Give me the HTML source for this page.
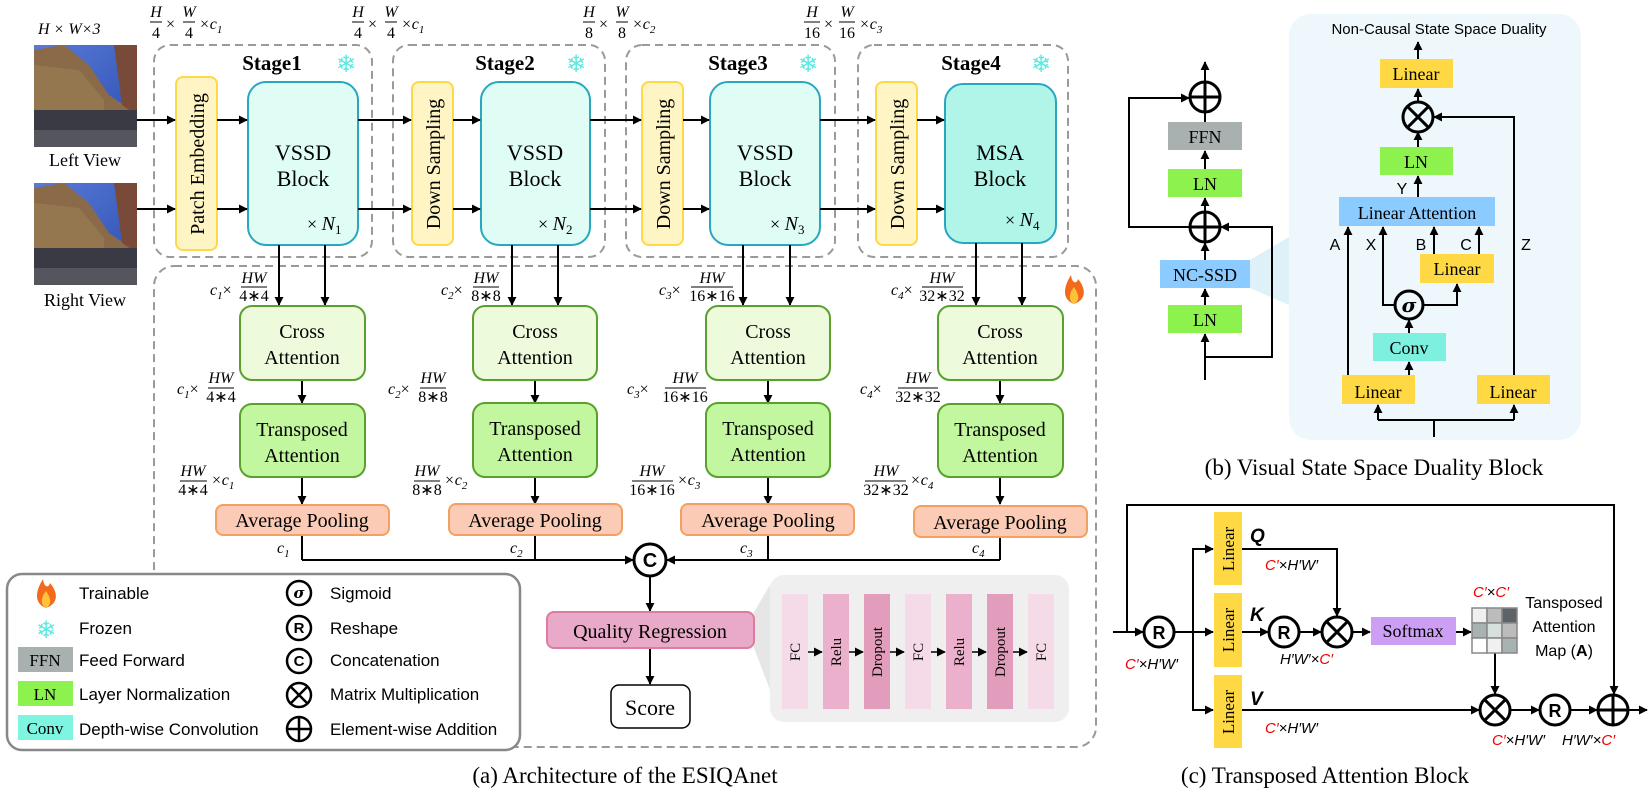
<!DOCTYPE html>
<html><head><meta charset="utf-8"><style>
html,body{margin:0;padding:0;background:#fff;}
svg{display:block;}
.s{font-family:"Liberation Serif",serif;}
.a{font-family:"Liberation Sans",sans-serif;}
.m{font-family:"Liberation Serif",serif;font-style:italic;font-size:16px;}
</style></head><body>
<svg width="1652" height="794" viewBox="0 0 1652 794" xmlns="http://www.w3.org/2000/svg">
<defs>
<marker id="ar" viewBox="0 0 10 10" refX="9" refY="5" markerWidth="9" markerHeight="9" markerUnits="userSpaceOnUse" orient="auto"><path d="M0,0L10,5L0,10z" fill="#000"/></marker>
<linearGradient id="sky" x1="0" y1="0" x2="1" y2="1"><stop offset="0" stop-color="#5a7ad8"/><stop offset="1" stop-color="#2a4fb0"/></linearGradient>
<g id="photo">
<rect x="0" y="0" width="103" height="102" fill="url(#sky)"/>
<polygon points="0,5 30,0 55,20 75,50 90,60 103,55 103,102 0,102" fill="#8a6a48"/>
<polygon points="80,0 103,0 103,70 88,60" fill="#7a4a38"/>
<polygon points="0,20 45,25 70,55 70,102 0,102" fill="#9a7d52" opacity="0.7"/>
<rect x="0" y="65" width="103" height="37" fill="#3a3a44"/>
<rect x="0" y="85" width="103" height="17" fill="#55555e"/>
</g>
<g id="fire"><path d="M0,14 C-13,9 -10,-4 -3,-15 C-2,-6 3,-6 4,-11 C11,-3 14,9 0,14z" fill="#f26a1b"/><path d="M0,14 C-6,11 -5,3 0,-3 C4,3 7,10 0,14z" fill="#ffc23a"/></g>
</defs>

<use href="#photo" x="34" y="45"/>
<use href="#photo" x="34" y="183"/>
<text x="38" y="34" class="m" font-size="15">H × W×3</text>
<text x="85" y="166" class="s" font-size="18" text-anchor="middle">Left View</text>
<text x="85" y="306" class="s" font-size="18" text-anchor="middle">Right View</text>

<g class="m">
<g transform="translate(150,0)"><text x="6" y="17" text-anchor="middle">H</text><line x1="0" y1="22" x2="12" y2="22" stroke="#000"/><text x="6" y="38" text-anchor="middle" font-style="normal">4</text><text x="16" y="29" font-style="normal">×</text><text x="39" y="17" text-anchor="middle">W</text><line x1="33" y1="22" x2="45" y2="22" stroke="#000"/><text x="39" y="38" text-anchor="middle" font-style="normal">4</text><text x="49" y="29">×c<tspan font-size="11" dy="4">1</tspan></text></g>
<g transform="translate(352,0)"><text x="6" y="17" text-anchor="middle">H</text><line x1="0" y1="22" x2="12" y2="22" stroke="#000"/><text x="6" y="38" text-anchor="middle" font-style="normal">4</text><text x="16" y="29" font-style="normal">×</text><text x="39" y="17" text-anchor="middle">W</text><line x1="33" y1="22" x2="45" y2="22" stroke="#000"/><text x="39" y="38" text-anchor="middle" font-style="normal">4</text><text x="49" y="29">×c<tspan font-size="11" dy="4">1</tspan></text></g>
<g transform="translate(583,0)"><text x="6" y="17" text-anchor="middle">H</text><line x1="0" y1="22" x2="12" y2="22" stroke="#000"/><text x="6" y="38" text-anchor="middle" font-style="normal">8</text><text x="16" y="29" font-style="normal">×</text><text x="39" y="17" text-anchor="middle">W</text><line x1="33" y1="22" x2="45" y2="22" stroke="#000"/><text x="39" y="38" text-anchor="middle" font-style="normal">8</text><text x="49" y="29">×c<tspan font-size="11" dy="4">2</tspan></text></g>
<g transform="translate(804,0)"><text x="8" y="17" text-anchor="middle">H</text><line x1="0" y1="22" x2="16" y2="22" stroke="#000"/><text x="8" y="38" text-anchor="middle" font-style="normal">16</text><text x="20" y="29" font-style="normal">×</text><text x="43" y="17" text-anchor="middle">W</text><line x1="35" y1="22" x2="51" y2="22" stroke="#000"/><text x="43" y="38" text-anchor="middle" font-style="normal">16</text><text x="55" y="29">×c<tspan font-size="11" dy="4">3</tspan></text></g>
</g>

<g fill="none" stroke="#9a9a9a" stroke-width="2" stroke-dasharray="8,5">
<rect x="154" y="45" width="218" height="212" rx="16"/>
<rect x="393" y="45" width="212" height="212" rx="16"/>
<rect x="626" y="45" width="209" height="212" rx="16"/>
<rect x="858" y="45" width="210" height="212" rx="16"/>
<rect x="154" y="266" width="942" height="481" rx="20"/>
</g>
<g class="s" font-weight="bold" font-size="21" text-anchor="middle">
<text x="272" y="70">Stage1</text><text x="505" y="70">Stage2</text><text x="738" y="70">Stage3</text><text x="971" y="70">Stage4</text>
</g>
<g font-family="DejaVu Sans" font-size="24" fill="#5ee8df" text-anchor="middle">
<text x="346" y="72">❄</text><text x="576" y="72">❄</text><text x="808" y="72">❄</text><text x="1041" y="72">❄</text>
</g>
<use href="#fire" x="1074" y="290"/>

<g fill="#fff4c4" stroke="#ffd84a" stroke-width="2">
<rect x="176" y="77" width="41" height="173" rx="7"/>
<rect x="412" y="82" width="41" height="163" rx="7"/>
<rect x="642" y="82" width="41" height="163" rx="7"/>
<rect x="876" y="82" width="41" height="163" rx="7"/>
</g>
<g class="s" font-size="20" text-anchor="middle">
<text transform="translate(204,164) rotate(-90)">Patch Embedding</text>
<text transform="translate(440,164) rotate(-90)">Down Sampling</text>
<text transform="translate(670,164) rotate(-90)">Down Sampling</text>
<text transform="translate(904,164) rotate(-90)">Down Sampling</text>
</g>
<g stroke="#2aa7c0" stroke-width="2">
<rect x="248" y="82" width="110" height="163" rx="18" fill="#dffcf5"/>
<rect x="481" y="82" width="109" height="163" rx="18" fill="#dffcf5"/>
<rect x="710" y="82" width="110" height="163" rx="18" fill="#dffcf5"/>
<rect x="945" y="84" width="111" height="159" rx="18" fill="#b0f5e8"/>
</g>
<g class="s" font-size="22" text-anchor="middle">
<text x="303" y="160">VSSD</text><text x="303" y="186">Block</text>
<text x="535" y="160">VSSD</text><text x="535" y="186">Block</text>
<text x="765" y="160">VSSD</text><text x="765" y="186">Block</text>
<text x="1000" y="160">MSA</text><text x="1000" y="186">Block</text>
</g>
<g class="s" font-size="18">
<text x="307" y="230">× <tspan font-style="italic" font-size="20">N</tspan><tspan font-size="13" dy="4">1</tspan></text>
<text x="538" y="230">× <tspan font-style="italic" font-size="20">N</tspan><tspan font-size="13" dy="4">2</tspan></text>
<text x="770" y="230">× <tspan font-style="italic" font-size="20">N</tspan><tspan font-size="13" dy="4">3</tspan></text>
<text x="1005" y="226">× <tspan font-style="italic" font-size="20">N</tspan><tspan font-size="13" dy="4">4</tspan></text>
</g>

<g stroke="#000" stroke-width="2" marker-end="url(#ar)" fill="none">
<line x1="137" y1="120" x2="175" y2="120"/><line x1="137" y1="209" x2="175" y2="209"/>
<line x1="217" y1="120" x2="247" y2="120"/><line x1="217" y1="209" x2="247" y2="209"/>
<line x1="358" y1="120" x2="411" y2="120"/><line x1="358" y1="209" x2="411" y2="209"/>
<line x1="453" y1="120" x2="480" y2="120"/><line x1="453" y1="209" x2="480" y2="209"/>
<line x1="590" y1="120" x2="641" y2="120"/><line x1="590" y1="209" x2="641" y2="209"/>
<line x1="683" y1="120" x2="709" y2="120"/><line x1="683" y1="209" x2="709" y2="209"/>
<line x1="820" y1="120" x2="875" y2="120"/><line x1="820" y1="209" x2="875" y2="209"/>
<line x1="917" y1="120" x2="944" y2="120"/><line x1="917" y1="209" x2="944" y2="209"/>
<line x1="279" y1="245" x2="279" y2="305"/><line x1="325" y1="245" x2="325" y2="305"/>
<line x1="512" y1="245" x2="512" y2="305"/><line x1="558" y1="245" x2="558" y2="305"/>
<line x1="743" y1="245" x2="743" y2="305"/><line x1="790" y1="245" x2="790" y2="305"/>
<line x1="976" y1="243" x2="976" y2="305"/><line x1="1022" y1="243" x2="1022" y2="305"/>
<line x1="302" y1="380" x2="302" y2="403"/><line x1="535" y1="380" x2="535" y2="403"/>
<line x1="768" y1="380" x2="768" y2="403"/><line x1="1000" y1="380" x2="1000" y2="403"/>
<line x1="302" y1="477" x2="302" y2="504"/><line x1="535" y1="477" x2="535" y2="504"/>
<line x1="768" y1="477" x2="768" y2="504"/><line x1="1000" y1="477" x2="1000" y2="504"/>
<line x1="302" y1="535" x2="302" y2="560" marker-end="none"/><line x1="535" y1="535" x2="535" y2="560" marker-end="none"/>
<line x1="768" y1="535" x2="768" y2="560" marker-end="none"/><line x1="1000" y1="537" x2="1000" y2="560" marker-end="none"/>
<line x1="302" y1="560" x2="633" y2="560"/><line x1="1000" y1="560" x2="667" y2="560"/>
<line x1="650" y1="576" x2="650" y2="611"/><line x1="650" y1="648" x2="650" y2="684"/>
</g>

<g stroke="#5aa02c" stroke-width="2">
<rect x="240" y="306" width="125" height="74" rx="12" fill="#eefadc"/>
<rect x="473" y="306" width="124" height="74" rx="12" fill="#eefadc"/>
<rect x="706" y="306" width="124" height="74" rx="12" fill="#eefadc"/>
<rect x="938" y="306" width="125" height="74" rx="12" fill="#eefadc"/>
<rect x="240" y="404" width="125" height="73" rx="12" fill="#c2f7a0"/>
<rect x="473" y="403" width="124" height="74" rx="12" fill="#c2f7a0"/>
<rect x="706" y="403" width="124" height="74" rx="12" fill="#c2f7a0"/>
<rect x="938" y="404" width="125" height="73" rx="12" fill="#c2f7a0"/>
</g>
<g stroke="#f4a060" stroke-width="2" fill="#fbcbb5">
<rect x="216" y="505" width="173" height="30" rx="7"/>
<rect x="449" y="504" width="173" height="31" rx="7"/>
<rect x="681" y="504" width="173" height="31" rx="7"/>
<rect x="914" y="506" width="173" height="31" rx="7"/>
</g>
<g class="s" font-size="20" text-anchor="middle">
<text x="302" y="338">Cross</text><text x="302" y="364">Attention</text>
<text x="535" y="338">Cross</text><text x="535" y="364">Attention</text>
<text x="768" y="338">Cross</text><text x="768" y="364">Attention</text>
<text x="1000" y="338">Cross</text><text x="1000" y="364">Attention</text>
<text x="302" y="436">Transposed</text><text x="302" y="462">Attention</text>
<text x="535" y="435">Transposed</text><text x="535" y="461">Attention</text>
<text x="768" y="435">Transposed</text><text x="768" y="461">Attention</text>
<text x="1000" y="436">Transposed</text><text x="1000" y="462">Attention</text>
<text x="302" y="527">Average Pooling</text><text x="535" y="527">Average Pooling</text>
<text x="768" y="527">Average Pooling</text><text x="1000" y="529">Average Pooling</text>
</g>

<g class="m">
<text x="210" y="295">c<tspan font-size="11" dy="4">1</tspan><tspan dy="-4" font-style="normal">×</tspan></text>
<text x="254" y="283" text-anchor="middle">HW</text><line x1="241" y1="287" x2="267" y2="287" stroke="#000"/><text x="254" y="301" text-anchor="middle" font-style="normal">4∗4</text>
<text x="441" y="295">c<tspan font-size="11" dy="4">2</tspan><tspan dy="-4" font-style="normal">×</tspan></text>
<text x="486" y="283" text-anchor="middle">HW</text><line x1="473" y1="287" x2="499" y2="287" stroke="#000"/><text x="486" y="301" text-anchor="middle" font-style="normal">8∗8</text>
<text x="659" y="295">c<tspan font-size="11" dy="4">3</tspan><tspan dy="-4" font-style="normal">×</tspan></text>
<text x="712" y="283" text-anchor="middle">HW</text><line x1="691" y1="287" x2="733" y2="287" stroke="#000"/><text x="712" y="301" text-anchor="middle" font-style="normal">16∗16</text>
<text x="891" y="295">c<tspan font-size="11" dy="4">4</tspan><tspan dy="-4" font-style="normal">×</tspan></text>
<text x="942" y="283" text-anchor="middle">HW</text><line x1="922" y1="287" x2="963" y2="287" stroke="#000"/><text x="942" y="301" text-anchor="middle" font-style="normal">32∗32</text>

<text x="177" y="394">c<tspan font-size="11" dy="4">1</tspan><tspan dy="-4" font-style="normal">×</tspan></text>
<text x="221" y="383" text-anchor="middle">HW</text><line x1="208" y1="388" x2="234" y2="388" stroke="#000"/><text x="221" y="402" text-anchor="middle" font-style="normal">4∗4</text>
<text x="388" y="394">c<tspan font-size="11" dy="4">2</tspan><tspan dy="-4" font-style="normal">×</tspan></text>
<text x="433" y="383" text-anchor="middle">HW</text><line x1="420" y1="388" x2="446" y2="388" stroke="#000"/><text x="433" y="402" text-anchor="middle" font-style="normal">8∗8</text>
<text x="627" y="394">c<tspan font-size="11" dy="4">3</tspan><tspan dy="-4" font-style="normal">×</tspan></text>
<text x="685" y="383" text-anchor="middle">HW</text><line x1="665" y1="388" x2="706" y2="388" stroke="#000"/><text x="685" y="402" text-anchor="middle" font-style="normal">16∗16</text>
<text x="860" y="394">c<tspan font-size="11" dy="4">4</tspan><tspan dy="-4" font-style="normal">×</tspan></text>
<text x="918" y="383" text-anchor="middle">HW</text><line x1="898" y1="388" x2="938" y2="388" stroke="#000"/><text x="918" y="402" text-anchor="middle" font-style="normal">32∗32</text>

<text x="193" y="476" text-anchor="middle">HW</text><line x1="180" y1="481" x2="207" y2="481" stroke="#000"/><text x="193" y="495" text-anchor="middle" font-style="normal">4∗4</text><text x="211" y="485">×c<tspan font-size="11" dy="4">1</tspan></text>
<text x="427" y="476" text-anchor="middle">HW</text><line x1="414" y1="481" x2="440" y2="481" stroke="#000"/><text x="427" y="495" text-anchor="middle" font-style="normal">8∗8</text><text x="444" y="485">×c<tspan font-size="11" dy="4">2</tspan></text>
<text x="652" y="476" text-anchor="middle">HW</text><line x1="632" y1="481" x2="673" y2="481" stroke="#000"/><text x="652" y="495" text-anchor="middle" font-style="normal">16∗16</text><text x="677" y="485">×c<tspan font-size="11" dy="4">3</tspan></text>
<text x="886" y="476" text-anchor="middle">HW</text><line x1="865" y1="481" x2="906" y2="481" stroke="#000"/><text x="886" y="495" text-anchor="middle" font-style="normal">32∗32</text><text x="910" y="485">×c<tspan font-size="11" dy="4">4</tspan></text>

<text x="277" y="553">c<tspan font-size="11" dy="4">1</tspan></text>
<text x="510" y="553">c<tspan font-size="11" dy="4">2</tspan></text>
<text x="740" y="553">c<tspan font-size="11" dy="4">3</tspan></text>
<text x="972" y="553">c<tspan font-size="11" dy="4">4</tspan></text>
</g>

<circle cx="650" cy="560" r="16" fill="#fff" stroke="#000" stroke-width="3"/>
<text x="650" y="567" class="a" font-weight="bold" font-size="20" text-anchor="middle">C</text>

<polygon points="754,612 770,585 770,690 754,648" fill="#e6e6e6"/>
<rect x="770" y="575" width="299" height="147" rx="14" fill="#efefef"/>
<rect x="547" y="612" width="207" height="36" rx="7" fill="#e8aac8" stroke="#e07aa0" stroke-width="2"/>
<text x="650" y="638" class="s" font-size="20" text-anchor="middle">Quality Regression</text>
<rect x="611" y="685" width="79" height="43" rx="8" fill="#fff" stroke="#000" stroke-width="1.5"/>
<text x="650" y="715" class="s" font-size="22" text-anchor="middle">Score</text>
<g>
<rect x="782" y="594" width="26" height="115" fill="#f5dbe7"/>
<rect x="823" y="594" width="26" height="115" fill="#ebb0cc"/>
<rect x="864" y="594" width="26" height="115" fill="#e29cbc"/>
<rect x="905" y="594" width="26" height="115" fill="#f5dbe7"/>
<rect x="946" y="594" width="26" height="115" fill="#ebb0cc"/>
<rect x="987" y="594" width="26" height="115" fill="#e29cbc"/>
<rect x="1028" y="594" width="26" height="115" fill="#f5dbe7"/>
</g>
<g class="s" font-size="15" text-anchor="middle">
<text transform="translate(800,652) rotate(-90)">FC</text>
<text transform="translate(841,652) rotate(-90)">Relu</text>
<text transform="translate(882,652) rotate(-90)">Dropout</text>
<text transform="translate(923,652) rotate(-90)">FC</text>
<text transform="translate(964,652) rotate(-90)">Relu</text>
<text transform="translate(1005,652) rotate(-90)">Dropout</text>
<text transform="translate(1046,652) rotate(-90)">FC</text>
</g>
<g stroke="#000" stroke-width="1.5" marker-end="url(#ar)">
<line x1="808" y1="652" x2="822" y2="652"/><line x1="849" y1="652" x2="863" y2="652"/><line x1="890" y1="652" x2="904" y2="652"/>
<line x1="931" y1="652" x2="945" y2="652"/><line x1="972" y1="652" x2="986" y2="652"/><line x1="1013" y1="652" x2="1027" y2="652"/>
</g>

<rect x="7" y="574" width="513" height="176" rx="15" fill="#fff" stroke="#888" stroke-width="2.5"/>
<use href="#fire" x="46" y="594"/>
<text x="46" y="638" font-family="DejaVu Sans" font-size="24" fill="#5ee8df" text-anchor="middle">❄</text>
<rect x="18" y="647" width="55" height="25" fill="#a9b0b0"/><text x="45" y="666" class="s" font-size="17" text-anchor="middle">FFN</text>
<rect x="18" y="681" width="55" height="25" fill="#8ef24e"/><text x="45" y="700" class="s" font-size="17" text-anchor="middle">LN</text>
<rect x="18" y="715" width="55" height="25" fill="#7ef5e0"/><text x="45" y="734" class="s" font-size="17" text-anchor="middle">Conv</text>
<g class="a" font-size="17">
<text x="79" y="599">Trainable</text><text x="79" y="634">Frozen</text><text x="79" y="666">Feed Forward</text>
<text x="79" y="700">Layer Normalization</text><text x="79" y="735">Depth-wise Convolution</text>
<text x="330" y="599">Sigmoid</text><text x="330" y="634">Reshape</text><text x="330" y="666">Concatenation</text>
<text x="330" y="700">Matrix Multiplication</text><text x="330" y="735">Element-wise Addition</text>
</g>
<g fill="none" stroke="#000" stroke-width="2.5">
<circle cx="299" cy="593" r="12"/><circle cx="299" cy="628" r="12"/><circle cx="299" cy="661" r="12"/>
<circle cx="299" cy="695" r="12"/><circle cx="299" cy="729" r="12"/>
<path d="M290.5,686.5L307.5,703.5M307.5,686.5L290.5,703.5M287,729H311M299,717V741"/>
</g>
<g class="a" font-weight="bold" font-size="15" text-anchor="middle">
<text x="299" y="598" font-style="italic" font-family="DejaVu Serif">σ</text><text x="299" y="633">R</text><text x="299" y="666">C</text>
</g>

<text x="625" y="783" class="s" font-size="23" text-anchor="middle">(a) Architecture of the ESIQAnet</text>

<polygon points="1250,260 1289,237 1289,305 1250,288" fill="#d6ecf6" opacity="0.8"/>
<rect x="1289" y="14" width="292" height="426" rx="22" fill="#eef8fc"/>
<g fill="none" stroke="#000" stroke-width="2">
<line x1="1205" y1="380" x2="1205" y2="334" marker-end="url(#ar)"/>
<line x1="1205" y1="305" x2="1205" y2="289" marker-end="url(#ar)"/>
<line x1="1205" y1="260" x2="1205" y2="243" marker-end="url(#ar)"/>
<line x1="1205" y1="212" x2="1205" y2="198" marker-end="url(#ar)"/>
<line x1="1205" y1="169" x2="1205" y2="151" marker-end="url(#ar)"/>
<line x1="1205" y1="122" x2="1205" y2="112"/>
<line x1="1205" y1="82" x2="1205" y2="62" marker-end="url(#ar)"/>
<polyline points="1190,227 1129,227 1129,98 1189,98" marker-end="url(#ar)"/>
<polyline points="1205,357 1272,357 1272,227 1221,227" marker-end="url(#ar)"/>
</g>
<g fill="none" stroke="#000" stroke-width="3">
<circle cx="1205" cy="97" r="15"/><path d="M1190,97H1220M1205,82V112"/>
<circle cx="1205" cy="227" r="15"/><path d="M1190,227H1220M1205,212V242"/>
</g>
<rect x="1168" y="122" width="74" height="28" fill="#a9b0b0"/>
<rect x="1168" y="169" width="74" height="28" fill="#8ef24e"/>
<rect x="1160" y="260" width="90" height="28" fill="#8ccbff"/>
<rect x="1168" y="305" width="74" height="28" fill="#8ef24e"/>
<g class="s" font-size="18" text-anchor="middle">
<text x="1205" y="143">FFN</text><text x="1205" y="190">LN</text><text x="1205" y="281">NC-SSD</text><text x="1205" y="326">LN</text>
</g>
<text x="1439" y="34" class="a" font-size="15" text-anchor="middle">Non-Causal State Space Duality</text>
<g fill="#ffd944">
<rect x="1380" y="59" width="73" height="29"/>
<rect x="1420" y="254" width="74" height="29"/>
<rect x="1342" y="375" width="73" height="29"/>
<rect x="1477" y="375" width="73" height="29"/>
</g>
<rect x="1380" y="147" width="73" height="28" fill="#8ef24e"/>
<rect x="1339" y="197" width="156" height="29" fill="#8ccbff"/>
<rect x="1373" y="333" width="73" height="28" fill="#7ef0e0"/>
<g class="s" font-size="18" text-anchor="middle">
<text x="1416" y="80">Linear</text><text x="1416" y="168">LN</text><text x="1417" y="219">Linear Attention</text>
<text x="1457" y="275">Linear</text><text x="1409" y="354">Conv</text><text x="1378" y="398">Linear</text><text x="1513" y="398">Linear</text>
</g>
<g fill="none" stroke="#000" stroke-width="2">
<line x1="1418" y1="59" x2="1418" y2="42" marker-end="url(#ar)"/>
<line x1="1418" y1="102" x2="1418" y2="89" marker-end="url(#ar)"/>
<line x1="1418" y1="147" x2="1418" y2="132" marker-end="url(#ar)"/>
<line x1="1418" y1="197" x2="1418" y2="176" marker-end="url(#ar)"/>
<line x1="1348" y1="375" x2="1348" y2="227" marker-end="url(#ar)"/>
<polyline points="1395,305 1383,305 1383,227" marker-end="url(#ar)"/>
<line x1="1434" y1="254" x2="1434" y2="227" marker-end="url(#ar)"/>
<line x1="1479" y1="254" x2="1479" y2="227" marker-end="url(#ar)"/>
<polyline points="1423,305 1457,305 1457,284" marker-end="url(#ar)"/>
<line x1="1409" y1="333" x2="1409" y2="320" marker-end="url(#ar)"/>
<line x1="1409" y1="375" x2="1409" y2="362" marker-end="url(#ar)"/>
<polyline points="1514,375 1514,117 1434,117" marker-end="url(#ar)"/>
<line x1="1434" y1="437" x2="1434" y2="420"/>
<polyline points="1378,420 1514,420"/>
<line x1="1378" y1="420" x2="1378" y2="405" marker-end="url(#ar)"/>
<line x1="1514" y1="420" x2="1514" y2="405" marker-end="url(#ar)"/>
</g>
<g fill="#eef8fc" stroke="#000" stroke-width="3">
<circle cx="1418" cy="117" r="15"/><path d="M1407.4,106.4L1428.6,127.6M1428.6,106.4L1407.4,127.6"/>
<circle cx="1409" cy="305" r="14"/>
</g>
<text x="1409" y="312" font-family="DejaVu Serif" font-style="italic" font-weight="bold" font-size="20" text-anchor="middle">σ</text>
<g class="a" font-size="16" text-anchor="middle">
<text x="1402" y="194">Y</text><text x="1335" y="250">A</text><text x="1371" y="250">X</text><text x="1421" y="250">B</text><text x="1466" y="250">C</text><text x="1526" y="250">Z</text>
</g>
<text x="1374" y="475" class="s" font-size="23" text-anchor="middle">(b) Visual State Space Duality Block</text>

<g fill="none" stroke="#000" stroke-width="2">
<line x1="1113" y1="632" x2="1143" y2="632" marker-end="url(#ar)"/>
<polyline points="1127,632 1127,505 1614,505 1614,694" marker-end="url(#ar)"/>
<line x1="1174" y1="632" x2="1213" y2="632" marker-end="url(#ar)"/>
<polyline points="1213,549 1193,549 1193,710 1213,710"/>
<line x1="1200" y1="549" x2="1213" y2="549" marker-end="url(#ar)"/>
<line x1="1200" y1="710" x2="1213" y2="710" marker-end="url(#ar)"/>
<polyline points="1242,549 1337,549 1337,616" marker-end="url(#ar)"/>
<line x1="1242" y1="632" x2="1268" y2="632" marker-end="url(#ar)"/>
<line x1="1299" y1="632" x2="1321" y2="632" marker-end="url(#ar)"/>
<line x1="1352" y1="632" x2="1370" y2="632" marker-end="url(#ar)"/>
<line x1="1456" y1="632" x2="1471" y2="632" marker-end="url(#ar)"/>
<line x1="1495" y1="653" x2="1495" y2="694" marker-end="url(#ar)"/>
<line x1="1242" y1="710" x2="1479" y2="710" marker-end="url(#ar)"/>
<line x1="1510" y1="710" x2="1539" y2="710" marker-end="url(#ar)"/>
<line x1="1570" y1="710" x2="1597" y2="710" marker-end="url(#ar)"/>
<line x1="1628" y1="710" x2="1647" y2="710" marker-end="url(#ar)"/>
</g>
<g fill="#fff" stroke="#000" stroke-width="3">
<circle cx="1159" cy="632" r="15"/><circle cx="1284" cy="632" r="15"/>
<circle cx="1337" cy="632" r="15"/><path d="M1326.4,621.4L1347.6,642.6M1347.6,621.4L1326.4,642.6"/>
<circle cx="1495" cy="710" r="15"/><path d="M1484.4,699.4L1505.6,720.6M1505.6,699.4L1484.4,720.6"/>
<circle cx="1555" cy="710" r="15"/>
<circle cx="1613" cy="710" r="15"/><path d="M1598,710H1628M1613,695V725"/>
</g>
<g class="a" font-weight="bold" font-size="18" text-anchor="middle">
<text x="1159" y="639">R</text><text x="1284" y="639">R</text><text x="1555" y="717">R</text>
</g>
<g fill="#ffd944"><rect x="1214" y="512" width="28" height="73"/><rect x="1214" y="593" width="28" height="74"/><rect x="1214" y="675" width="28" height="73"/></g>
<g class="s" font-size="17" text-anchor="middle">
<text transform="translate(1234,549) rotate(-90)">Linear</text>
<text transform="translate(1234,630) rotate(-90)">Linear</text>
<text transform="translate(1234,712) rotate(-90)">Linear</text>
</g>
<g class="a" font-weight="bold" font-style="italic" font-size="19">
<text x="1250" y="542">Q</text><text x="1250" y="621">K</text><text x="1250" y="705">V</text>
</g>
<rect x="1371" y="617" width="85" height="28" fill="#cc9ff5"/>
<text x="1413" y="637" class="s" font-size="18" text-anchor="middle">Softmax</text>
<g stroke="#888" stroke-width="1.5">
<rect x="1472" y="608" width="15" height="15" fill="#f0f0f0"/><rect x="1487" y="608" width="15" height="15" fill="#bcbcbc"/><rect x="1502" y="608" width="15" height="15" fill="#5c6468"/>
<rect x="1472" y="623" width="15" height="15" fill="#a8b2b0"/><rect x="1487" y="623" width="15" height="15" fill="#d8e0de"/><rect x="1502" y="623" width="15" height="15" fill="#bcbcbc"/>
<rect x="1472" y="638" width="15" height="15" fill="#fff"/><rect x="1487" y="638" width="15" height="15" fill="#f0f0f0"/><rect x="1502" y="638" width="15" height="15" fill="#a8b2b0"/>
</g>
<g class="a" font-size="16" text-anchor="middle">
<text x="1564" y="608">Tansposed</text><text x="1564" y="632">Attention</text><text x="1564" y="656">Map (<tspan font-weight="bold">A</tspan>)</text>
</g>
<g class="a" font-style="italic" font-size="15">
<text x="1265" y="570"><tspan fill="#e00">C′</tspan>×H′W′</text>
<text x="1280" y="664">H′W′×<tspan fill="#e00">C′</tspan></text>
<text x="1125" y="669"><tspan fill="#e00">C′</tspan>×H′W′</text>
<text x="1473" y="597"><tspan fill="#e00">C′</tspan>×<tspan fill="#e00">C′</tspan></text>
<text x="1265" y="733"><tspan fill="#e00">C′</tspan>×H′W′</text>
<text x="1492" y="745"><tspan fill="#e00">C′</tspan>×H′W′</text>
<text x="1562" y="745">H′W′×<tspan fill="#e00">C′</tspan></text>
</g>
<text x="1325" y="783" class="s" font-size="23" text-anchor="middle">(c) Transposed Attention Block</text>
</svg>
</body></html>
